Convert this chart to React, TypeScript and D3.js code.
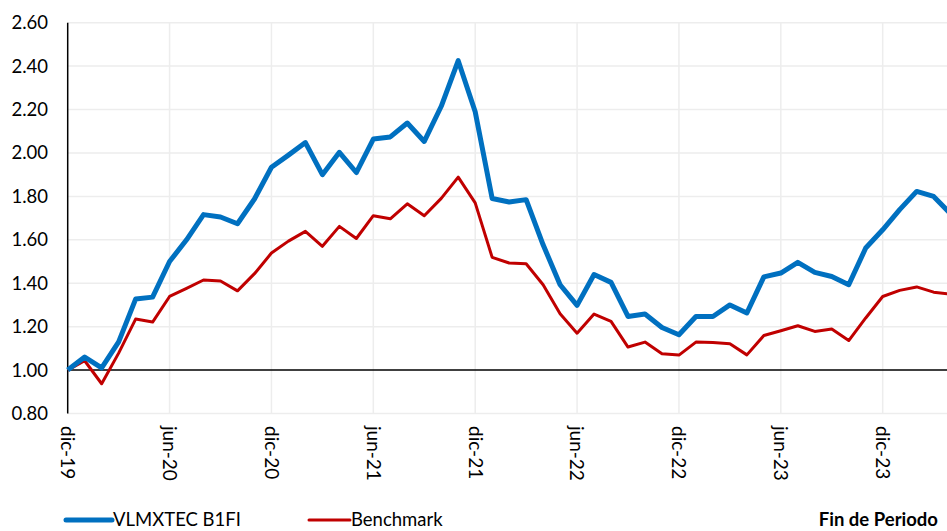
import React, { useEffect, useRef } from "react";
import * as d3 from "d3";

const months = [
  "dic-19", "ene-20", "feb-20", "mar-20", "abr-20", "may-20", "jun-20", "jul-20", "ago-20", "sep-20", "oct-20", "nov-20",
  "dic-20", "ene-21", "feb-21", "mar-21", "abr-21", "may-21", "jun-21", "jul-21", "ago-21", "sep-21", "oct-21", "nov-21",
  "dic-21", "ene-22", "feb-22", "mar-22", "abr-22", "may-22", "jun-22", "jul-22", "ago-22", "sep-22", "oct-22", "nov-22",
  "dic-22", "ene-23", "feb-23", "mar-23", "abr-23", "may-23", "jun-23", "jul-23", "ago-23", "sep-23", "oct-23", "nov-23",
  "dic-23", "ene-24", "feb-24", "mar-24", "abr-24",
];

const fund = [
  1.0, 1.06, 1.01, 1.13, 1.327, 1.336, 1.5, 1.6, 1.716, 1.705, 1.674, 1.788,
  1.934, 1.99, 2.048, 1.9, 2.003, 1.91, 2.064, 2.074, 2.138, 2.053, 2.215, 2.425,
  2.19, 1.79, 1.774, 1.785, 1.577, 1.393, 1.298, 1.44, 1.404, 1.247, 1.258, 1.196,
  1.163, 1.247, 1.247, 1.3, 1.263, 1.429, 1.447, 1.496, 1.45, 1.431, 1.393, 1.562,
  1.646, 1.739, 1.823, 1.8, 1.72,
];

const benchmark = [
  1.0, 1.043, 0.937, 1.078, 1.235, 1.221, 1.339, 1.376, 1.415, 1.41, 1.365, 1.444,
  1.539, 1.594, 1.639, 1.57, 1.662, 1.606, 1.711, 1.697, 1.766, 1.711, 1.791, 1.889,
  1.77, 1.519, 1.493, 1.49, 1.393, 1.259, 1.17, 1.258, 1.224, 1.106, 1.129, 1.075,
  1.069, 1.129, 1.127, 1.121, 1.07, 1.159, 1.181, 1.204, 1.178, 1.189, 1.136, 1.24,
  1.339, 1.367, 1.383, 1.359, 1.35,
];

const xTickLabels = ["dic-19", "jun-20", "dic-20", "jun-21", "dic-21", "jun-22", "dic-22", "jun-23", "dic-23"];
const yTicks = [0.8, 1.0, 1.2, 1.4, 1.6, 1.8, 2.0, 2.2, 2.4, 2.6];

const W = 947;
const H = 531;
const FONT = "Lato, 'Liberation Sans', sans-serif";

function App() {
  const ref = useRef<SVGSVGElement | null>(null);

  useEffect(() => {
    const svg = d3.select(ref.current);
    svg.selectAll("*").remove();

    const x = d3.scaleLinear().domain([0, 48]).range([67.7, 882.7]);
    const y = d3.scaleLinear().domain([0.8, 2.6]).range([413.5, 22.7]);

    // gridlines
    yTicks.forEach((t) => {
      if (t === 1.0) return;
      svg
        .append("line")
        .attr("x1", x(0))
        .attr("x2", W)
        .attr("y1", y(t))
        .attr("y2", y(t))
        .attr("stroke", "#ededed")
        .attr("stroke-width", 1.5);
    });
    xTickLabels.forEach((m) => {
      const i = months.indexOf(m);
      if (i === 0) return;
      svg
        .append("line")
        .attr("x1", x(i))
        .attr("x2", x(i))
        .attr("y1", y(2.6))
        .attr("y2", y(0.8))
        .attr("stroke", "#ededed")
        .attr("stroke-width", 1.5);
    });

    // y labels
    yTicks.forEach((t) =>
      svg
        .append("text")
        .attr("x", 48)
        .attr("y", y(t))
        .attr("dy", "0.35em")
        .attr("text-anchor", "end")
        .attr("font-family", FONT)
        .attr("font-size", 18.5)
        .attr("fill", "#000")
        .text(t.toFixed(2))
    );

    // x labels, rotated
    xTickLabels.forEach((m) => {
      const i = months.indexOf(m);
      svg
        .append("text")
        .attr("transform", `translate(${x(i)},${426}) rotate(90)`)
        .attr("dy", "0.35em")
        .attr("font-family", FONT)
        .attr("font-size", 19)
        .attr("fill", "#000")
        .text(m);
    });

    // axes
    svg
      .append("line")
      .attr("x1", x(0))
      .attr("x2", W)
      .attr("y1", y(1))
      .attr("y2", y(1))
      .attr("stroke", "#000")
      .attr("stroke-width", 1.5);
    svg
      .append("line")
      .attr("x1", x(0))
      .attr("x2", x(0))
      .attr("y1", y(2.6))
      .attr("y2", y(0.8))
      .attr("stroke", "#000")
      .attr("stroke-width", 1.5);

    const line = d3
      .line<number>()
      .x((_, i) => x(i))
      .y((d) => y(d));

    svg
      .append("path")
      .datum(benchmark)
      .attr("d", line)
      .attr("fill", "none")
      .attr("stroke", "#C00000")
      .attr("stroke-width", 3)
      .attr("stroke-linejoin", "round");

    svg
      .append("path")
      .datum(fund)
      .attr("d", line)
      .attr("fill", "none")
      .attr("stroke", "#0070C0")
      .attr("stroke-width", 5)
      .attr("stroke-linejoin", "round");

    // legend
    const legend = [
      { name: "VLMXTEC B1FI", color: "#0070C0", w: 5, x0: 66, x1: 112 },
      { name: "Benchmark", color: "#C00000", w: 3, x0: 309, x1: 350 },
    ];
    legend.forEach((l) => {
      svg
        .append("line")
        .attr("x1", l.x0)
        .attr("x2", l.x1)
        .attr("y1", 520)
        .attr("y2", 520)
        .attr("stroke", l.color)
        .attr("stroke-width", l.w)
        .attr("stroke-linecap", "round");
      svg
        .append("text")
        .attr("x", l.x1 + 1)
        .attr("y", 526)
        .attr("font-family", FONT)
        .attr("font-size", 18.5)
        .attr("fill", "#000")
        .text(l.name);
    });
    svg
      .append("text")
      .attr("x", 938)
      .attr("y", 526)
      .attr("text-anchor", "end")
      .attr("font-family", FONT)
      .attr("font-size", 18.5)
      .attr("font-weight", "bold")
      .attr("fill", "#000")
      .text("Fin de Periodo");
  }, []);

  return (
    <svg
      ref={ref}
      width={W}
      height={H}
      style={{ position: "absolute", left: 0, top: 0, background: "#fff", overflow: "hidden" }}
    />
  );
}

export default App;
